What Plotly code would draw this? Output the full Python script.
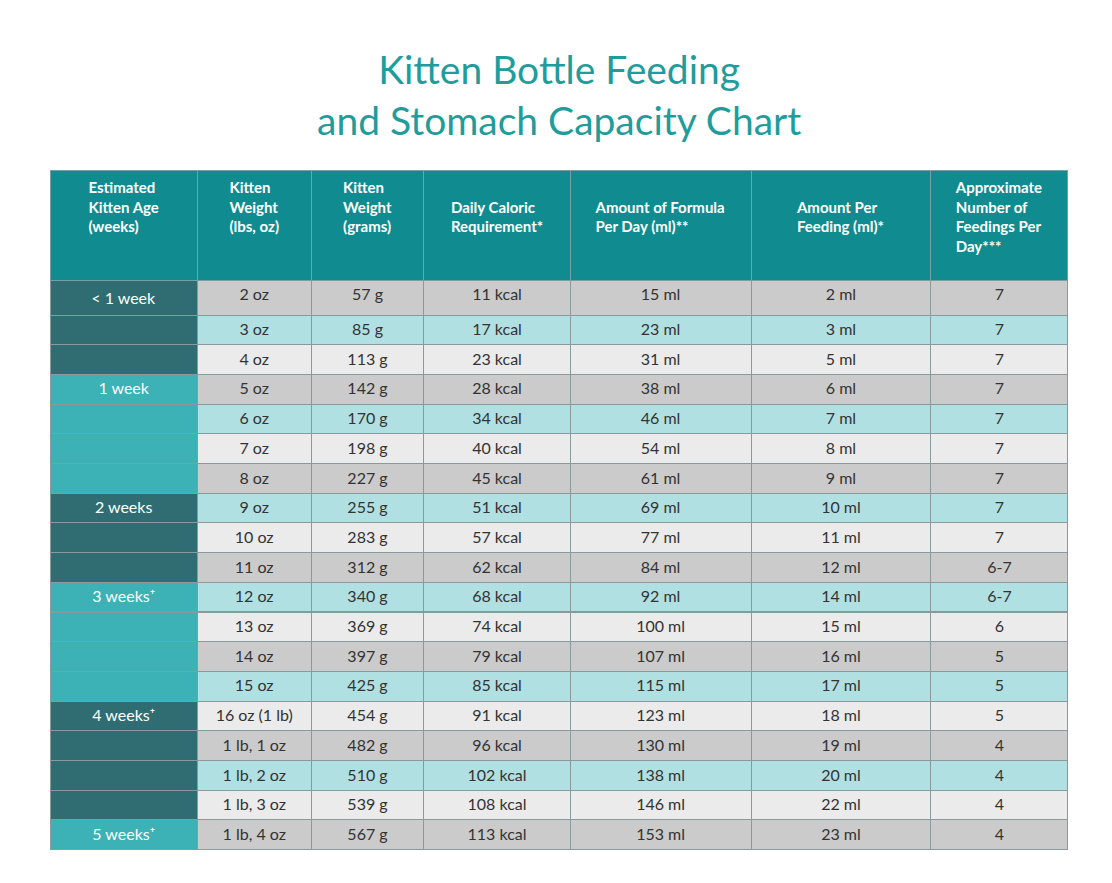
import plotly.graph_objects as go

# ---------------- data ----------------
headers = ["Estimated<br>Kitten Age<br>(weeks)", "Kitten<br>Weight<br>(lbs, oz)",
           "Kitten<br>Weight<br>(grams)", "Daily Caloric<br>Requirement*",
           "Amount of Formula<br>Per Day (ml)**", "Amount Per<br>Feeding (ml)*",
           "Approximate<br>Number of<br>Feedings Per<br>Day***"]
age = ["< 1 week", "", "", "1 week", "", "", "", "2 weeks", "", "", "3 weeks⁺", "", "", "",
       "4 weeks⁺", "", "", "", "5 weeks⁺"]
weight_lbs = ["2 oz", "3 oz", "4 oz", "5 oz", "6 oz", "7 oz", "8 oz", "9 oz", "10 oz", "11 oz",
              "12 oz", "13 oz", "14 oz", "15 oz", "16 oz (1 lb)", "1 lb, 1 oz", "1 lb, 2 oz",
              "1 lb, 3 oz", "1 lb, 4 oz"]
weight_g = [57, 85, 113, 142, 170, 198, 227, 255, 283, 312, 340, 369, 397, 425, 454, 482, 510, 539, 567]
kcal = [11, 17, 23, 28, 34, 40, 45, 51, 57, 62, 68, 74, 79, 85, 91, 96, 102, 108, 113]
formula_ml = [15, 23, 31, 38, 46, 54, 61, 69, 77, 84, 92, 100, 107, 115, 123, 130, 138, 146, 153]
feed_ml = [2, 3, 5, 6, 7, 8, 9, 10, 11, 12, 14, 15, 16, 17, 18, 19, 20, 22, 23]
feedings = ["7", "7", "7", "7", "7", "7", "7", "7", "7", "6-7", "6-7", "6", "5", "5", "5",
            "4", "4", "4", "4"]
# age group of each row (0..5)
age_group = [0]*3 + [1]*4 + [2]*3 + [3]*4 + [4]*4 + [5]

# ---------------- styles ----------------
TEAL_HEAD = "#108b90"
AGE_COLS = ["#2f6d72", "#3cb1b6"]
ROW_COLS = ["#cbcbcb", "#b1e0e3", "#ebebeb"]
n = len(weight_lbs)

row_fill = [ROW_COLS[i % 3] for i in range(n)]
age_fill = [AGE_COLS[g % 2] for g in age_group]

cells = [age, weight_lbs, [f"{v} g" for v in weight_g], [f"{v} kcal" for v in kcal],
         [f"{v} ml" for v in formula_ml], [f"{v} ml" for v in feed_ml], feedings]
fills = [age_fill] + [row_fill] * 6
fonts = [["white"] * n] + [["#333333"] * n] * 6

hdr = []
for h in headers:
    lines = ["<b>" + s + "</b>" for s in h.split("<br>")]
    if len(lines) == 2:
        lines = ["&nbsp;"] + lines
    hdr.append("<br>".join(lines))

fig = go.Figure(go.Table(
    columnwidth=[145, 112, 111, 144, 178, 177, 135],
    header=dict(values=hdr, fill_color=TEAL_HEAD, height=110,
                line=dict(color="#7a9fa2", width=1), align="center",
                font=dict(color="white", size=15, family="Lato")),
    cells=dict(values=cells, fill_color=fills, height=29.7,
               line=dict(color="#8a9a9c", width=1), align="center",
               font=dict(color=fonts, size=16, family="Lato")),
))

fig.add_annotation(text="Kitten Bottle Feeding<br>and Stomach Capacity Chart",
                   x=0.5, xref="paper", y=1.035, yref="paper", yanchor="bottom",
                   showarrow=False,
                   font=dict(size=39, color="#1f9c9c", family="Lato"))

fig.update_layout(width=1112, height=883, paper_bgcolor="white",
                  margin=dict(l=42, r=52, t=162, b=0))
fig.write_html("out.html")
